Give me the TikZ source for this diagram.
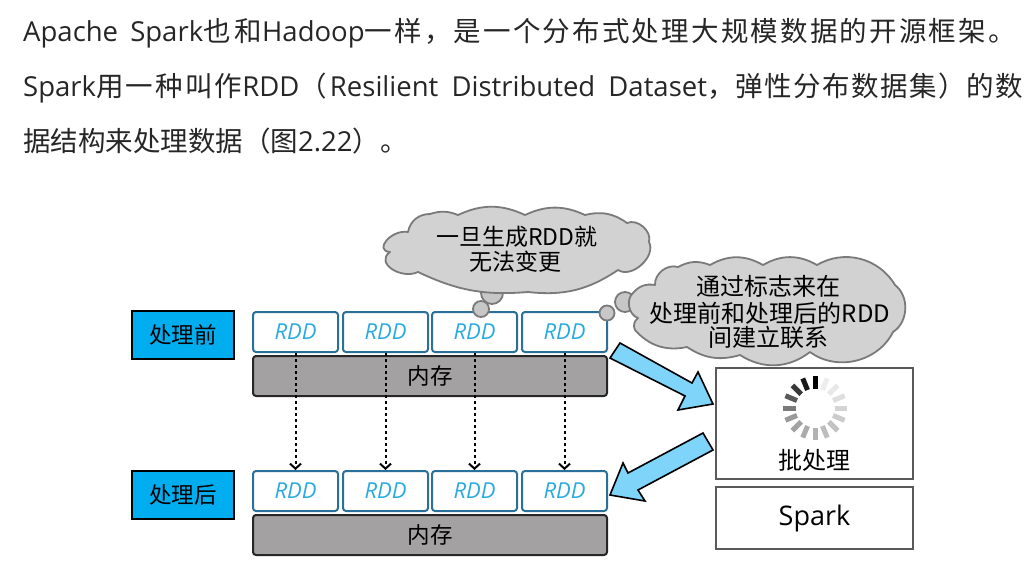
\documentclass[tikz,border=0pt]{standalone}
\usepackage{fontspec}
\setmainfont{Open Sans}
\newfontfamily\zhfont{Noto Sans CJK SC}
\newfontfamily\zhwide[LetterSpace=8]{Noto Sans CJK SC}
\newfontfamily\zhmid[LetterSpace=5]{Noto Sans CJK SC}
\usetikzlibrary{arrows.meta}
\definecolor{labelblue}{HTML}{00AEEF}
\definecolor{rddedge}{HTML}{2A7098}
\definecolor{rddtext}{HTML}{29ABE2}
\definecolor{memfill}{HTML}{A3A1A2}
\definecolor{cloudfill}{HTML}{D2D2D2}
\definecolor{cloudedge}{HTML}{7A7A7A}
\definecolor{arrowfill}{HTML}{7FD4FA}
\definecolor{boxedge}{HTML}{5A5A5A}
\newcommand{\zh}[1]{{\zhfont #1}}
\newcommand{\zw}[1]{{\zhwide #1}}
\newcommand{\zm}[1]{{\zhmid #1}}
\newcommand{\fs}[1]{\fontsize{#1}{#1}\selectfont}
\newcommand{\wsp}{\hspace{5pt}}
\newcommand{\wsq}{\hspace{6pt}}
\tikzset{
  bodytext/.style={anchor=base west,inner sep=0pt,text=black!85,font=\fs{27.5}},
  phase/.style={draw=black,line width=2pt,fill=labelblue,minimum width=102pt,minimum height=48pt,inner sep=0pt,font=\fs{22.5}\zhfont},
  rddbox/.style={draw=rddedge,line width=2pt,fill=white,rounded corners=3pt,minimum width=85pt,minimum height=40pt,inner sep=0pt,text=rddtext,font=\fs{22}\itshape},
  membox/.style={draw=black!85,line width=2pt,fill=memfill,rounded corners=3pt,minimum width=354pt,minimum height=40pt,inner sep=0pt,font=\fs{22.5}\zhfont},
  cloudshape/.style={draw=cloudedge,line width=1.8pt,fill=cloudfill,line join=round},
  bubble/.style={circle,draw=cloudedge,line width=1.8pt,fill=cloudfill!95!black,inner sep=0pt},
  cloudtext/.style={inner sep=0pt,font=\fs{24}\zhfont},
  plainbox/.style={draw=boxedge,line width=2pt,fill=white,minimum width=197pt,inner sep=0pt},
  copyflow/.style={draw=black,line width=2pt,dash pattern=on 3pt off 3pt,-{Straight Barb[length=5pt,width=11pt]}},
  bigarrow/.style={draw=black,line width=1.6pt,fill=arrowfill,line join=miter},
}
\begin{document}
\begin{tikzpicture}[x=1pt,y=-1pt]
\useasboundingbox (0,0) rectangle (1034,574);
\node[bodytext] (l1) at (23,41) {Apache\wsp{} Spark\zw{也}\hspace{4pt}\zw{和}Hadoop\zw{一样，是一个分布式处理大规模数据的开源框架。}};
\node[bodytext] (l2) at (23,96) {Spark\zw{用一种叫作}RDD\zw{（}\hspace{3pt}Resilient\wsq{} Distributed\wsq{} Dataset\zm{，弹性分布数据集）的数}};
\node[bodytext] (l3) at (23,151) {\zh{据结构来处理数据（图}2.22\zh{）。}};

% row before
\node[phase] (before) at (183,335) {处理前};
\node[rddbox] (a1) at (295.5,332) {RDD};
\node[rddbox] (a2) at (385.5,332) {RDD};
\node[rddbox] (a3) at (474.5,332) {RDD};
\node[rddbox] (a4) at (564.5,332) {RDD};
\node[membox] (m1) at (430,376) {内存};
% row after
\node[phase] (after) at (183,494.5) {处理后};
\node[rddbox] (b1) at (295.5,491) {RDD};
\node[rddbox] (b2) at (385.5,491) {RDD};
\node[rddbox] (b3) at (474.5,491) {RDD};
\node[rddbox] (b4) at (564.5,491) {RDD};
\node[membox] (m2) at (430,535) {内存};

\foreach \i in {1,2,3,4}{\draw[copyflow] (a\i.south) -- (b\i.north);}

% bubbles
\node[bubble,minimum size=22pt] (t1) at (492,293) {};
\node[bubble,minimum size=16pt] (t2) at (481,309) {};
\node[bubble,minimum size=20pt] (t3) at (625,302) {};
\node[bubble,minimum size=15pt] (t4) at (607,313) {};

% cloud one
\draw[cloudshape] (408,232) to[bend left=40] (430,214) to[bend left=20] (458,215)
  to[bend left=25] (525,215) to[bend left=25] (585,215) to[bend left=25] (627,223)
  to[bend left=65] (649,242) to[bend left=75] (618,270) to[bend left=20] (528,292)
  to[bend left=15] (418,272) to[out=205,in=215,looseness=1.4] (390,252) to[out=175,in=170,looseness=1.6] cycle;
\node[cloudtext,font=\fs{23}\zhfont] (c1a) at (517,237) {一旦生成RDD就};
\node[cloudtext,font=\fs{23}\zhfont] (c1b) at (515,262) {无法变更};

% cloud two
\draw[cloudshape] (633,293) to[bend left=30] (655,285) to[bend left=55] (678,267)
  to[bend left=25] (710,265) to[bend left=30] (763,265) to[bend left=30] (817,265)
  to[bend left=45] (895,285) to[bend left=55] (893,332) to[bend left=50] (810,352)
  to[bend left=35] (740,355) to[bend left=25] (687,347) to[bend left=30] (635,330)
  to[bend left=40] (638,318) to[bend left=60] cycle;
\node[cloudtext] (c2a) at (768,286) {通过标志来在};
\node[cloudtext] (c2b) at (770,313) {处理前和处理后的RDD};
\node[cloudtext] (c2c) at (768,337) {间建立联系};

% engine boxes
\node[plainbox,minimum height=111pt] (batch) at (814.5,423.5) {};
\node[plainbox,minimum height=62pt,font=\fs{27}] (spark) at (814.5,518) {Spark};
\node[inner sep=0pt,font=\fs{24}\zhfont] (batchlabel) at (814,460) {批处理};

% spinner
\foreach \k/\s in {0/100,1/7,2/9,3/13,4/17,5/20,6/24,7/26,8/30,9/33,10/36,11/40,12/52,13/65,14/78,15/90}{
  \draw[line width=5pt,black!\s] ({815+19.5*sin(22.5*\k)},{408-19.5*cos(22.5*\k)}) -- ({815+32*sin(22.5*\k)},{408-32*cos(22.5*\k)});
}

% large arrows
\draw[bigarrow] (620,343) -- (692,383) -- (698,372) -- (713,404) -- (678,410) -- (685,396) -- (610,358) -- cycle;
\draw[bigarrow] (703,433) -- (628,473) -- (623,463) -- (610,495) -- (645,501) -- (638,490) -- (713,450) -- cycle;
\end{tikzpicture}
\end{document}
